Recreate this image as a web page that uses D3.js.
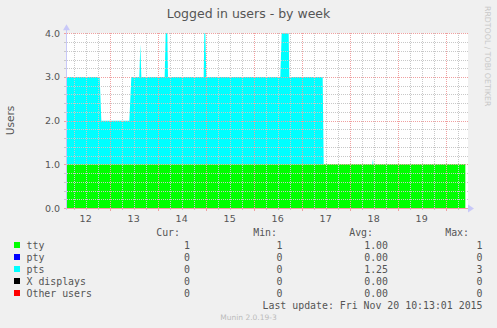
<!DOCTYPE html>
<html>
<head>
<meta charset="utf-8">
<script src="https://cdn.jsdelivr.net/npm/d3@7"></script>
<style>
  html, body { margin: 0; padding: 0; background: #F0F0F0; }
  svg { display: block; }
</style>
</head>
<body>
<svg id="chart" width="497" height="328"></svg>
<script>
// ---------- data ----------
const title = "Logged in users - by week";
const yLabel = "Users";
const domainStart = "2015-11-12 02:40";
const domainEnd = "2015-11-20 10:40";

const ttyTimes = ["2015-11-12 02:40", "2015-11-20 09:50"];
const ttyValues = [1, 1];

const ptsTimes = [
  "2015-11-12 02:40", "2015-11-12 19:00", "2015-11-12 19:50",
  "2015-11-13 09:50", "2015-11-13 10:50",
  "2015-11-13 14:50", "2015-11-13 15:20", "2015-11-13 15:50",
  "2015-11-14 03:30", "2015-11-14 04:00", "2015-11-14 04:50", "2015-11-14 05:10",
  "2015-11-14 23:00", "2015-11-14 23:20", "2015-11-14 23:50", "2015-11-15 00:20",
  "2015-11-16 13:20", "2015-11-16 14:00", "2015-11-16 17:30", "2015-11-16 17:50",
  "2015-11-17 10:30", "2015-11-17 11:00",
  "2015-11-18 11:20", "2015-11-18 11:40", "2015-11-18 11:50",
  "2015-11-20 09:50"
];
const ptsValues = [
  2, 2, 1,
  1, 2,
  2, 2.75, 2,
  2, 3, 3, 2,
  2, 3, 3, 2,
  2, 3, 3, 2,
  2, 0,
  0, 0.12, 0,
  0
];

const yTicks = [0, 1, 2, 3, 4];
const yTickLabels = ["0.0", "1.0", "2.0", "3.0", "4.0"];
const dayLabels = ["12", "13", "14", "15", "16", "17", "18", "19"];
const dayNoon = ["2015-11-12 12:00", "2015-11-13 12:00", "2015-11-14 12:00", "2015-11-15 12:00",
                 "2015-11-16 12:00", "2015-11-17 12:00", "2015-11-18 12:00", "2015-11-19 12:00"];

const legendNames = ["tty", "pty", "pts", "X displays", "Other users"];
const legendColors = ["#00FF00", "#0000FF", "#00FFFF", "#000000", "#FF0000"];
const curVals = ["1", "0", "0", "0", "0"];
const minVals = ["1", "0", "0", "0", "0"];
const avgVals = ["1.00", "0.00", "1.25", "0.00", "0.00"];
const maxVals = ["1", "0", "3", "0", "0"];
const lastUpdate = "Last update: Fri Nov 20 10:13:01 2015";
const footer = "Munin 2.0.19-3";
const sideText = "RRDTOOL / TOBI OETIKER";

// ---------- drawing ----------
const parse = d3.timeParse("%Y-%m-%d %H:%M");
const svg = d3.select("#chart");
const plot = { left: 67, right: 467, top: 33.3, bottom: 208 };

const x = d3.scaleTime().domain([parse(domainStart), parse(domainEnd)]).range([plot.left, plot.right]);
const y = d3.scaleLinear().domain([0, 4]).range([plot.bottom, plot.top]);

// plot background
svg.append("rect").attr("x", plot.left).attr("y", plot.top)
  .attr("width", plot.right - plot.left + 1).attr("height", plot.bottom - plot.top)
  .attr("fill", "#FFFFFF");

// tty baseline lookup (step)
const ttyT = ttyTimes.map(parse);
function ttyAt(t) {
  const i = Math.max(0, d3.bisectRight(ttyT, t) - 1);
  return ttyValues[i];
}

// tty area
const ttyData = ttyTimes.map((t, i) => ({ t: parse(t), v: ttyValues[i] }));
svg.append("path").datum(ttyData)
  .attr("fill", legendColors[0])
  .attr("d", d3.area().x(d => x(d.t)).y0(y(0)).y1(d => y(d.v)));

// pts area stacked on tty
const ptsData = ptsTimes.map((t, i) => ({ t: parse(t), v: ptsValues[i] }));
svg.append("path").datum(ptsData)
  .attr("fill", legendColors[2])
  .attr("d", d3.area().x(d => x(d.t)).y0(d => y(ttyAt(d.t))).y1(d => y(ttyAt(d.t) + d.v)));

// grid
const g = svg.append("g").attr("shape-rendering", "crispEdges");
const minorY = d3.range(0, 4.0001, 0.2).filter(v => Math.abs(v - Math.round(v)) > 1e-6);
g.selectAll(".hminor").data(minorY).join("line")
  .attr("x1", plot.left).attr("x2", plot.right + 1)
  .attr("y1", d => Math.round(y(d)) + 0.5).attr("y2", d => Math.round(y(d)) + 0.5)
  .attr("stroke", "#c8c8c8").attr("stroke-dasharray", "1,1");
g.selectAll(".hminortick").data(minorY).join("line")
  .attr("x1", plot.left - 3).attr("x2", plot.left)
  .attr("y1", d => Math.round(y(d)) + 0.5).attr("y2", d => Math.round(y(d)) + 0.5)
  .attr("stroke", "#c8c8c8");

const minorX = d3.timeHour.every(6).range(parse(domainStart), parse(domainEnd)).filter(d => d.getHours() !== 0);
const majorX = d3.timeDay.range(parse(domainStart), parse(domainEnd));
g.selectAll(".vminor").data(minorX).join("line")
  .attr("x1", d => Math.round(x(d)) + 0.5).attr("x2", d => Math.round(x(d)) + 0.5)
  .attr("y1", plot.top).attr("y2", plot.bottom)
  .attr("stroke", "#c8c8c8").attr("stroke-dasharray", "1,1");
g.selectAll(".vminortick").data(minorX).join("line")
  .attr("x1", d => Math.round(x(d)) + 0.5).attr("x2", d => Math.round(x(d)) + 0.5)
  .attr("y1", plot.bottom).attr("y2", plot.bottom + 2)
  .attr("stroke", "#c8c8c8");

g.selectAll(".hmajor").data(yTicks).join("line")
  .attr("x1", plot.left).attr("x2", plot.right + 1)
  .attr("y1", d => Math.round(y(d)) + 0.5).attr("y2", d => Math.round(y(d)) + 0.5)
  .attr("stroke", "#f0a0a0").attr("stroke-dasharray", d => d === 0 ? null : "1,1");
g.selectAll(".hmajortick").data(yTicks).join("line")
  .attr("x1", plot.left - 3).attr("x2", plot.left)
  .attr("y1", d => Math.round(y(d)) + 0.5).attr("y2", d => Math.round(y(d)) + 0.5)
  .attr("stroke", "#f0a0a0");
g.selectAll(".vmajor").data(majorX).join("line")
  .attr("x1", d => Math.round(x(d)) + 0.5).attr("x2", d => Math.round(x(d)) + 0.5)
  .attr("y1", plot.top).attr("y2", plot.bottom)
  .attr("stroke", "#f0a0a0").attr("stroke-dasharray", "1,1");
g.selectAll(".vmajortick").data(majorX).join("line")
  .attr("x1", d => Math.round(x(d)) + 0.5).attr("x2", d => Math.round(x(d)) + 0.5)
  .attr("y1", plot.bottom).attr("y2", plot.bottom + 3)
  .attr("stroke", "#f0a0a0");

// axes (left line + arrows)
g.append("line").attr("x1", plot.left - 0.5).attr("x2", plot.left - 0.5)
  .attr("y1", plot.top - 4).attr("y2", plot.bottom + 2).attr("stroke", "#c8c8f8");
svg.append("path").attr("d", `M${plot.left - 4},${plot.top - 3} L${plot.left - 0.5},${plot.top - 9} L${plot.left + 3},${plot.top - 3} Z`)
  .attr("fill", "#c8c8f8");
svg.append("path").attr("d", `M${plot.right + 1},${plot.bottom - 3.5} L${plot.right + 7},${plot.bottom + 0.5} L${plot.right + 1},${plot.bottom + 4.5} Z`)
  .attr("fill", "#c8c8f8");

// axis labels
const labelFont = "DejaVu Sans, sans-serif";
svg.selectAll(".ylab").data(yTicks).join("text")
  .attr("x", 60).attr("y", d => y(d) + 3.5)
  .attr("text-anchor", "end").attr("font-family", labelFont).attr("font-size", "9.5px")
  .attr("fill", "#555").text((d, i) => yTickLabels[i]);
svg.selectAll(".xlab").data(dayNoon).join("text")
  .attr("x", d => x(parse(d))).attr("y", 222)
  .attr("text-anchor", "middle").attr("font-family", labelFont).attr("font-size", "9.5px")
  .attr("fill", "#555").text((d, i) => dayLabels[i]);

// title
svg.append("text").attr("x", 248.5).attr("y", 17.5).attr("text-anchor", "middle")
  .attr("font-family", labelFont).attr("font-size", "12.5px").attr("fill", "#555").text(title);
// y label
svg.append("text").attr("transform", "translate(14,120.5) rotate(-90)").attr("text-anchor", "middle")
  .attr("font-family", labelFont).attr("font-size", "10.5px").attr("fill", "#555").text(yLabel);
// side text
svg.append("text").attr("transform", "translate(485,6) rotate(90)").attr("text-anchor", "start")
  .attr("font-family", labelFont).attr("font-size", "7.8px").attr("fill", "#c8c8c8").text(sideText);

// legend
const mono = "DejaVu Sans Mono, monospace";
const legendFS = "9.9px";
const rowY = [248.5, 260.5, 272.5, 284.5, 296.5];
const leg = svg.append("g").attr("font-family", mono).attr("font-size", legendFS).attr("fill", "#555");
const headers = [["Cur:", 180], ["Min:", 277], ["Avg:", 373], ["Max:", 469]];
headers.forEach(([h, xe]) => leg.append("text").attr("x", xe).attr("y", 236).attr("text-anchor", "end").text(h));
legendNames.forEach((n, i) => {
  leg.append("rect").attr("x", 14).attr("y", rowY[i] - 6.5).attr("width", 6).attr("height", 6).attr("fill", legendColors[i]);
  leg.append("text").attr("x", 26.5).attr("y", rowY[i]).text(n);
  leg.append("text").attr("x", 190).attr("y", rowY[i]).attr("text-anchor", "end").text(curVals[i]);
  leg.append("text").attr("x", 282.5).attr("y", rowY[i]).attr("text-anchor", "end").text(minVals[i]);
  leg.append("text").attr("x", 388).attr("y", rowY[i]).attr("text-anchor", "end").text(avgVals[i]);
  leg.append("text").attr("x", 482.5).attr("y", rowY[i]).attr("text-anchor", "end").text(maxVals[i]);
});
leg.append("text").attr("x", 482.5).attr("y", 309).attr("text-anchor", "end").text(lastUpdate);
svg.append("text").attr("x", 248.5).attr("y", 320).attr("text-anchor", "middle")
  .attr("font-family", labelFont).attr("font-size", "7.5px").attr("fill", "#bbb").text(footer);
</script>
</body>
</html>
